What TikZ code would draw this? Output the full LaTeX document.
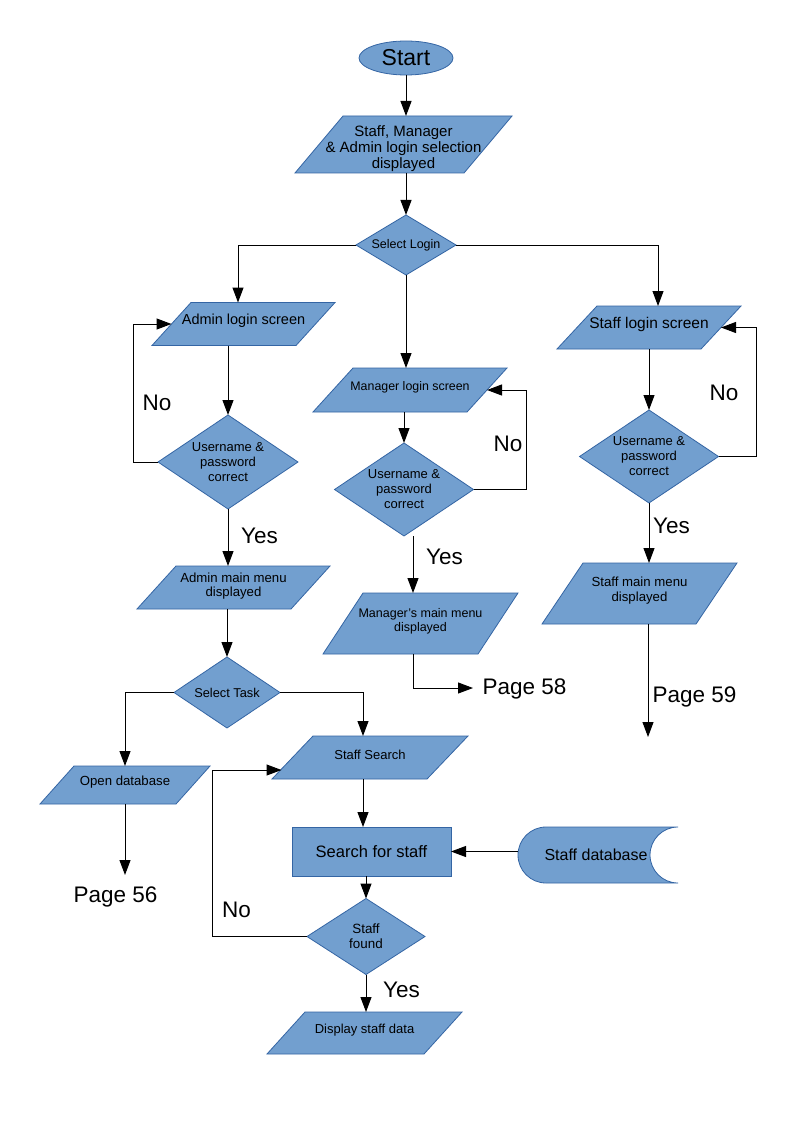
\documentclass[tikz,border=0pt]{standalone}
\usepackage{fontspec}
\setmainfont{Liberation Sans}
\usetikzlibrary{shapes.geometric,arrows.meta,calc}
\definecolor{boxfill}{HTML}{729FCF}
\definecolor{boxline}{HTML}{3465A4}
\newcommand\fz[2]{\fontsize{#1}{#2}\selectfont}
\tikzset{
  shapefill/.style={draw=boxline, fill=boxfill, line width=0.8pt},
  anchorbox/.style={rectangle, inner sep=0pt, outer sep=0pt},
  txt/.style={inner sep=0pt, align=center, text=black},
  dec/.style={diamond, draw=boxline, fill=boxfill, line width=0.8pt, inner sep=0pt, outer sep=0pt},
  lbl/.style={inner sep=0pt, text depth=0pt, font=\fz{22.5}{27}},
  arr/.style={draw=black, line width=1pt, -{Triangle[length=15pt,width=11pt]}}
}
% name, cx, cy, width, height, skew, font, text, text offset
\newcommand\iobox[9]{%
  \path[shapefill] ({#2-#4/2+#6},{#3-#5/2}) -- ({#2+#4/2},{#3-#5/2}) -- ({#2+#4/2-#6},{#3+#5/2}) -- ({#2-#4/2},{#3+#5/2}) -- cycle;
  \node[anchorbox, minimum width={#4-#6}, minimum height={#5}] (#1) at (#2,#3) {};
  \node[txt, font=#7] (#1-t) at ($(#1.center)+(0,#9)$) {#8};
}
\begin{document}
\begin{tikzpicture}[x=1pt,y=-1pt]
\fill[white] (0,0) rectangle (794,1123);
\useasboundingbox (0,0) rectangle (794,1123);

% start
\node[ellipse, draw=boxline, fill=boxfill, line width=0.8pt, minimum width=94, minimum height=34, inner sep=0pt, outer sep=0pt, font=\fz{23}{27}] (start) at (406,58) {Start};

% parallelograms
\iobox{sel}{403.5}{144.5}{217}{57}{48}{\fz{15}{16}}{Staff, Manager\\\& Admin login selection\\displayed}{4}
\iobox{al}{243.5}{324}{183}{43}{39}{\fz{14.5}{16}}{Admin login screen}{-3}
\iobox{ml}{410}{390}{194}{44}{40}{\fz{12.4}{14}}{Manager login screen}{-3}
\iobox{stl}{649}{327.5}{184}{43}{40}{\fz{15.5}{17}}{Staff login screen}{-3}
\iobox{am}{233.5}{587.5}{193}{43}{39}{\fz{13.2}{14}}{Admin main menu\\displayed}{-1.5}
\iobox{mm}{420.5}{623.5}{195}{61}{40}{\fz{12.5}{14.5}}{Manager's main menu\\displayed}{-2}
\iobox{smm}{639.5}{593.5}{195}{61}{41}{\fz{13.2}{14.5}}{Staff main menu\\displayed}{-3}
\iobox{od}{125}{785}{170}{38}{34}{\fz{13.2}{15}}{Open database}{-3}
\iobox{ss}{370}{757.5}{196}{43}{41}{\fz{13}{15}}{Staff Search}{-3}
\iobox{disp}{364.5}{1033}{195}{42}{38}{\fz{13}{15}}{Display staff data}{-3}

% decisions
\node[dec, minimum width=100, minimum height=60] (sl) at (406,245) {};
\node[txt, font=\fz{12.5}{14}] (sl-t) at (sl) {Select Login};
\node[dec, minimum width=140, minimum height=94] (d1) at (228,462) {};
\node[txt, font=\fz{13}{15}] (d1-t) at (d1) {Username \&\\password\\correct};
\node[dec, minimum width=139, minimum height=93] (d2) at (404,489.5) {};
\node[txt, font=\fz{13}{15}] (d2-t) at (d2) {Username \&\\password\\correct};
\node[dec, minimum width=139, minimum height=93] (d3) at (649,456.5) {};
\node[txt, font=\fz{13}{15}] (d3-t) at (d3) {Username \&\\password\\correct};
\node[dec, minimum width=106, minimum height=71] (st) at (227,692.5) {};
\node[txt, font=\fz{12.8}{14}] (st-t) at (st) {Select Task};
\node[dec, minimum width=118, minimum height=76] (sf) at (366,936.5) {};
\node[txt, font=\fz{13.4}{15}] (sf-t) at (sf) {Staff\\found};

% process
\node[rectangle, draw=boxline, fill=boxfill, line width=0.8pt, minimum width=159, minimum height=49, inner sep=0pt, outer sep=0pt, font=\fz{16.5}{19}] (sfs) at (371.5,851.5) {Search for staff};

% stored data
\path[shapefill] (546,827) -- (678,827) arc[start angle=270, end angle=90, radius=28] -- (546,883) arc[start angle=90, end angle=270, radius=28] -- cycle;
\node[anchorbox, minimum width=160, minimum height=56] (db) at (598,855) {};
\node[txt, font=\fz{16}{19}] (db-t) at (596,855) {Staff database};

% labels
\node[lbl] (no-a) at (157,403) {No};
\node[lbl] (yes-a) at (259.5,536) {Yes};
\node[lbl] (no-m) at (508,444) {No};
\node[lbl] (yes-m) at (444.5,557) {Yes};
\node[lbl] (no-s) at (724,393) {No};
\node[lbl] (yes-s) at (671.5,526) {Yes};
\node[lbl] (no-f) at (236.5,910) {No};
\node[lbl] (yes-f) at (401.5,990) {Yes};
\node[lbl] (p56) at (115.5,895) {Page 56};
\node[lbl] (p58) at (524.5,687) {Page 58};
\node[lbl] (p59) at (694.5,695) {Page 59};

\coordinate (p56in) at (125,875);
\coordinate (p58in) at (473,688);
\coordinate (p59in) at (648,737);

% connectors
\draw[arr] (start.south) -- (start.south |- sel.north);
\draw[arr] (sl.north |- sel.south) -- (sl.north);
\draw[arr] (sl.west) -| ([xshift=-5.5pt]al.north);
\draw[arr] (sl.east) -| ([xshift=9pt]stl.north);
\draw[arr] (sl.south) -- (sl.south |- ml.north);
\draw[arr] (d1.north |- al.south) -- (d1.north);
\draw[arr] (d1.west) -- ++(-25,0) |- (al.west);
\draw[arr] (d1.south) -- (d1.south |- am.north);
\draw[arr] (st.north |- am.south) -- (st.north);
\draw[arr] (st.west) -| (od.north);
\draw[arr] (st.east) -| ([xshift=-7pt]ss.north);
\draw[arr] (od.south) -- (p56in);
\draw[arr] ([xshift=-7pt]ss.south) -- ([xshift=-7pt]ss.south |- sfs.north);
\draw[arr] (db.west |- sfs.east) -- (sfs.east);
\draw[arr] (sf.north |- sfs.south) -- (sf.north);
\draw[arr] (sf.west) -- ++(-95,0) |- ([shift={(-11,12.5)}]ss.west);
\draw[arr] (sf.south) -- (sf.south |- disp.north);
\draw[arr] (d2.north |- ml.south) -- (d2.north);
\draw[arr] (d2.east) -- ++(53,0) |- (ml.east);
\draw[arr] ([xshift=9pt]d2.south) -- ([xshift=9pt]d2.south |- mm.north);
\draw[arr] ([xshift=-7.5pt]mm.south) |- (p58in);
\draw[arr] (d3.north |- stl.south) -- (d3.north);
\draw[arr] (d3.east) -- ++(38,0) |- (stl.east);
\draw[arr] (d3.south) -- (d3.south |- smm.north);
\draw[arr] (p59in |- smm.south) -- (p59in);
\end{tikzpicture}
\end{document}
